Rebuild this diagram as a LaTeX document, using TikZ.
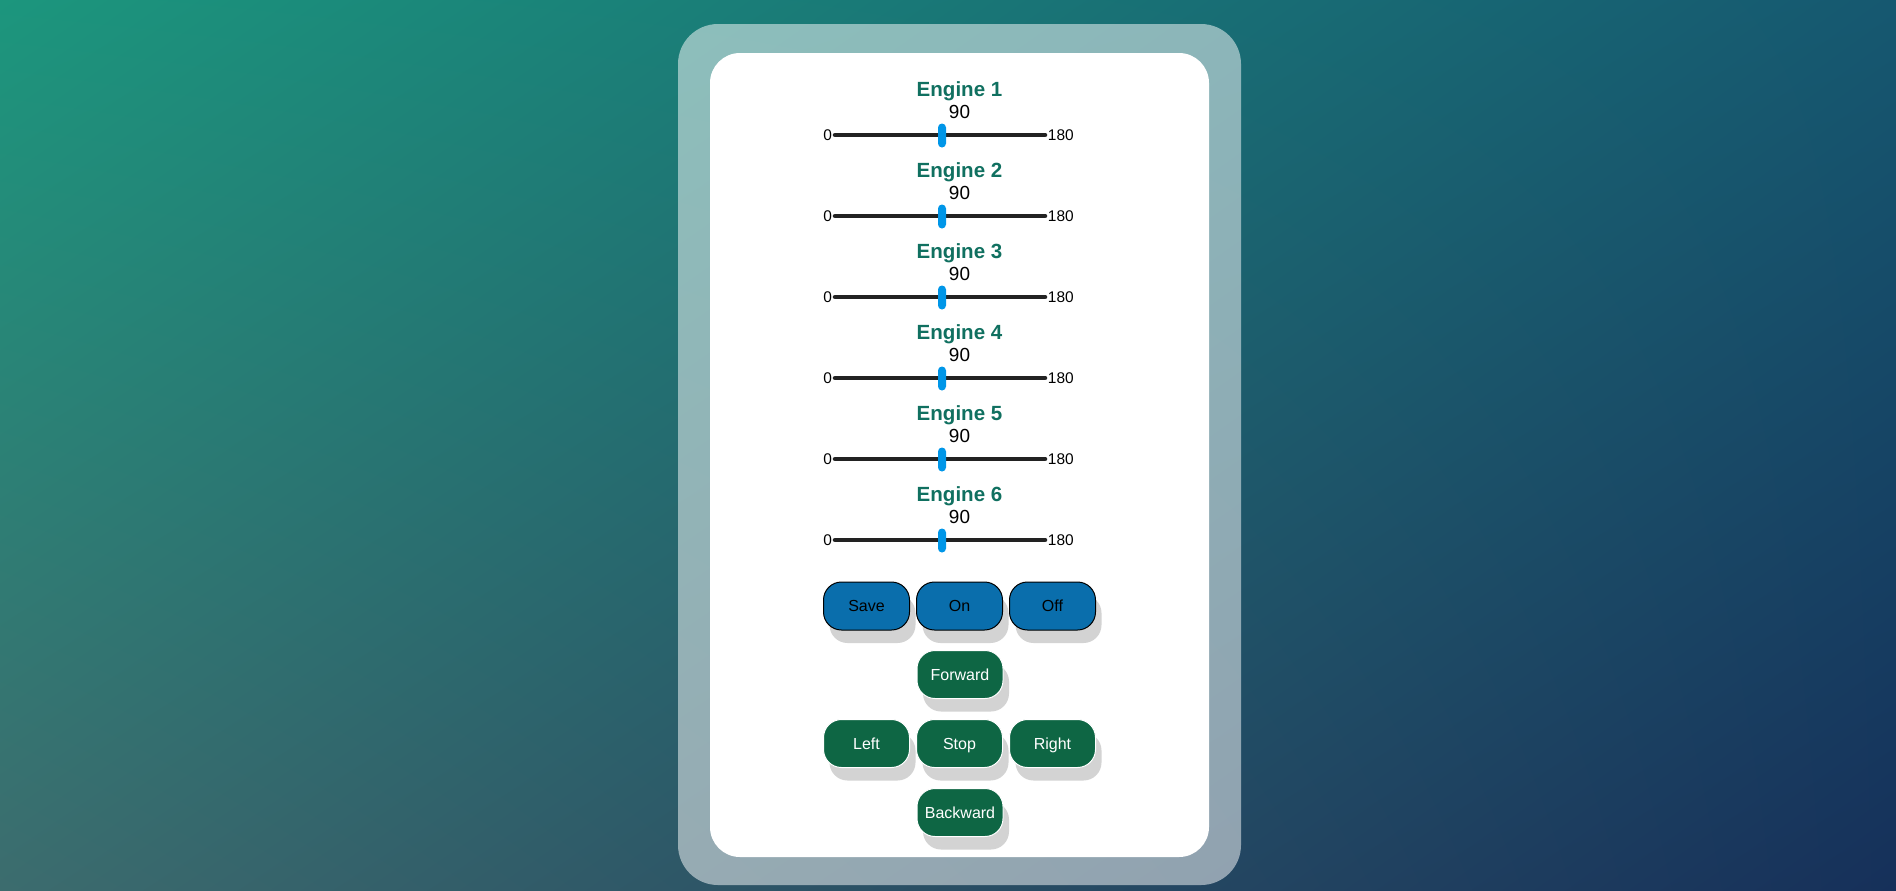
\documentclass[tikz,border=0pt]{standalone}
\usepackage{fontspec}
\setmainfont{Liberation Sans}
\usetikzlibrary{shadings}

\definecolor{bgTopLeft}{RGB}{28,150,125}
\definecolor{bgTopRight}{RGB}{22,88,112}
\definecolor{bgBottomLeft}{RGB}{60,108,110}
\definecolor{bgBottomRight}{RGB}{22,48,90}
\definecolor{engineGreen}{RGB}{16,112,96}
\definecolor{trackGray}{RGB}{34,34,34}
\definecolor{thumbBlue}{RGB}{0,150,232}
\definecolor{btnBlue}{RGB}{10,110,172}
\definecolor{btnGreen}{RGB}{14,102,68}
\definecolor{shadowGray}{RGB}{211,211,211}

\begin{document}
\begin{tikzpicture}[x=0.75pt,y=0.75pt,yscale=-1,xscale=1,
  enginelabel/.style={anchor=base,inner sep=0.75pt,text=engineGreen,font=\fontsize{15.4}{18}\selectfont\bfseries},
  valuelabel/.style={anchor=base,inner sep=0.75pt,text=black,font=\fontsize{14.2}{17}\selectfont},
  endlabel/.style={inner sep=0.5pt,text=black,font=\fontsize{11.6}{14}\selectfont},
  track/.style={draw=trackGray,line width=3.4pt,line cap=round},
  thumb/.style={fill=thumbBlue,draw=none,minimum width=6pt,minimum height=18pt,rounded corners=3pt,inner sep=0pt},
  btnbase/.style={minimum width=64.5pt,minimum height=36pt,rounded corners=13.5pt,inner sep=0pt,
    text height=8.6pt,text depth=0pt,font=\fontsize{12}{14}\selectfont},
  bluebtn/.style={btnbase,fill=btnBlue,draw=black,line width=0.75pt,text=black},
  greenbtn/.style={btnbase,fill=btnGreen,draw=white,line width=0.75pt,text=white},
  btnshadow/.style={fill=shadowGray,rounded corners=13.5pt}]
\useasboundingbox (0,0) rectangle (1896,890);

%Background
\shade[upper left=bgTopLeft,upper right=bgTopRight,lower left=bgBottomLeft,lower right=bgBottomRight] (0,0) rectangle (1896,890);
%Outer panel
\fill[white,fill opacity=0.5,rounded corners=30pt] (678,24) rectangle (1241,885);
%Inner card
\fill[white,rounded corners=22.5pt] (710,53) rectangle (1209,857);

%Sliders
\foreach \i in {1,...,6}{
  \pgfmathsetmacro{\ey}{81*(\i-1)}
  \node[enginelabel] (eng\i) at (959.5,96+\ey) {Engine \i};
  \node[valuelabel] (val\i) at (959.5,118+\ey) {90};
  \coordinate (lo\i) at (835,135+\ey);
  \coordinate (hi\i) at (1045,135+\ey);
  \draw[track] (lo\i) -- (hi\i);
  \node[thumb] (knob\i) at (942,135.5+\ey) {};
  \node[endlabel,anchor=base east] (min\i) at (833,140+\ey) {0};
  \node[endlabel,anchor=base west] (max\i) at (1047,140+\ey) {180};
}

%Buttons
\foreach \bx/\by/\bname/\btext in {866.5/606/save/Save, 959.5/606/on/On, 1052.5/606/off/Off}{
  \fill[btnshadow] (\bx-37,\by-11) rectangle (\bx+49,\by+37);
  \node[bluebtn] (\bname) at (\bx,\by) {\btext};
}
\foreach \bx/\by/\bname/\btext in {960/674.5/forward/Forward, 866.5/743.5/left/Left, 959.5/743.5/stop/Stop, 1052.5/743.5/right/Right, 960/812.5/backward/Backward}{
  \fill[btnshadow] (\bx-37,\by-11) rectangle (\bx+49,\by+37);
  \node[greenbtn] (\bname) at (\bx,\by) {\btext};
}

\end{tikzpicture}
\end{document}
